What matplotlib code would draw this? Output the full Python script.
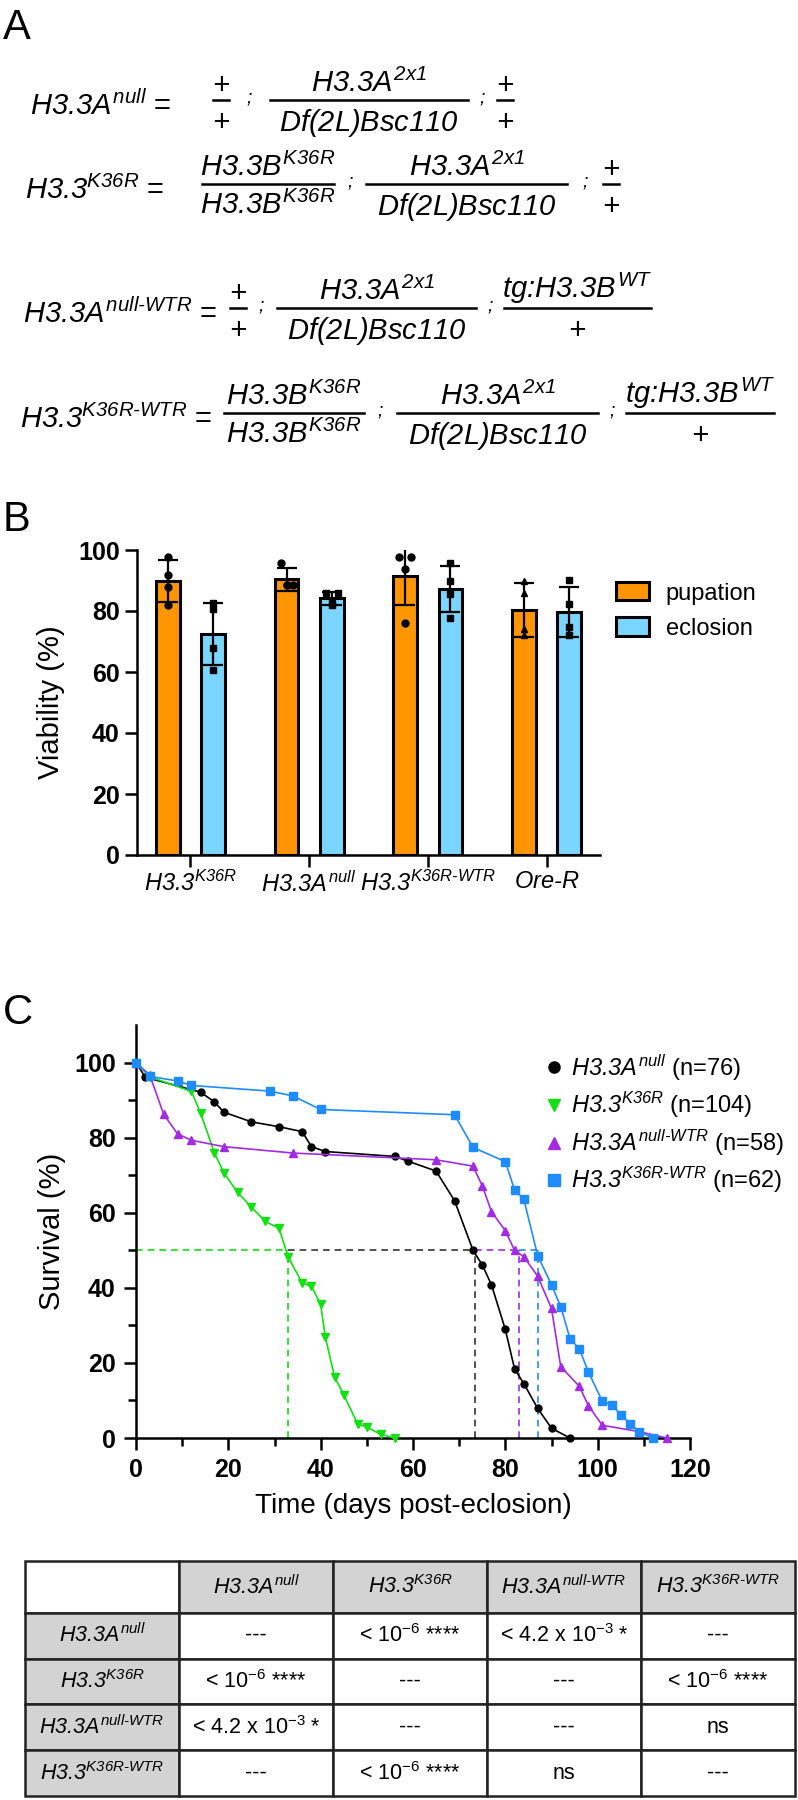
import numpy as np
import matplotlib
matplotlib.use('Agg')
import matplotlib.pyplot as plt
from matplotlib import font_manager
from matplotlib.lines import Line2D
from matplotlib.patches import Patch

names = {f.name for f in font_manager.fontManager.ttflist}
SANS = 'Liberation Sans'
NARROW = 'Liberation Sans Narrow' if 'Liberation Sans Narrow' in names else SANS

plt.rcParams['font.family'] = [SANS, 'DejaVu Sans']
plt.rcParams['mathtext.fontset'] = 'custom'
plt.rcParams['mathtext.rm'] = SANS + ':italic'
plt.rcParams['mathtext.it'] = SANS + ':italic'
plt.rcParams['mathtext.sf'] = SANS
plt.rcParams['mathtext.bf'] = SANS + ':bold'

# ---- labels
K36R = r'$\mathit{H3.3}^{\mathit{K36R}}$'
ANULL = r'$\mathit{H3.3A}^{\mathit{null}}$'
K36R_WTR = r'$\mathit{H3.3}^{\mathit{K36R}\text{-}\mathit{WTR}}$'
ANULL_WTR = r'$\mathit{H3.3A}^{\mathit{null}\text{-}\mathit{WTR}}$'
ORER = r'$\mathit{Ore}\text{-}\mathit{R}$'
A2X1 = r'$\mathit{H3.3A}^{\mathit{2x1}}$'
DF = r'$\mathit{Df(2L)Bsc110}$'
BK = r'$\mathit{H3.3B}^{\mathit{K36R}}$'
TG = r'tg:$\mathit{H3.3B}^{\mathit{WT}}$'
PLUS = r'$\mathit{+}$'

# ---- panel A: genotypes
geno_names = [ANULL + ' =', K36R + ' =', ANULL_WTR + ' =', K36R_WTR + ' =']
geno_fracs = [
    [(PLUS, PLUS), (A2X1, DF), (PLUS, PLUS)],
    [(BK, BK), (A2X1, DF), (PLUS, PLUS)],
    [(PLUS, PLUS), (A2X1, DF), (TG, PLUS)],
    [(BK, BK), (A2X1, DF), (TG, PLUS)],
]

# ---- panel B: viability
bar_groups = [K36R, ANULL, K36R_WTR, ORER]
pup_mean = [89.9, 90.4, 91.4, 80.4]
pup_sd = [6.8, 3.7, 9.4, 8.9]
ecl_mean = [72.4, 84.2, 87.3, 79.6]
ecl_sd = [10.1, 2.1, 7.6, 8.2]
pup_pts = [[97.8, 91.9, 88.0, 82.0], [95.9, 88.5, 88.5, 88.5],
           [97.8, 97.8, 93.8, 76.2], [89.7, 86.0, 74.0, 72.0]]
ecl_pts = [[82.7, 80.5, 68.0, 60.5], [86.0, 86.0, 82.5, 82.0],
           [95.9, 89.7, 85.6, 77.8], [90.3, 82.2, 74.6, 72.0]]
pup_marks = ['o', 'o', 'o', '^']
ecl_marks = ['s', 's', 's', 's']

# ---- panel C: survival
null_t = [0, 2, 14, 17, 19, 25, 31, 36, 38, 41, 56, 59, 65, 69, 73, 75, 77, 80, 82, 84, 87, 90, 94]
null_s = [100, 96.1, 92.1, 89.5, 86.8, 84.2, 82.9, 81.6, 77.6, 76.3, 75.0, 73.7, 71.1, 63.2, 50.0,
          46.1, 40.8, 28.9, 18.4, 14.5, 7.9, 2.6, 0]
k36r_t = [0, 3, 12, 14, 17, 19, 22, 25, 28, 31, 33, 36, 38, 40, 41, 43, 45, 48, 50, 53, 56]
k36r_s = [100, 96.2, 92.3, 86.5, 75.9, 70.7, 65.4, 61.5, 57.7, 55.8, 48.1, 41.3, 40.4, 35.6,
          26.9, 16.3, 11.5, 3.8, 2.9, 1.0, 0]
nwtr_t = [0, 3, 6, 9, 12, 19, 34, 65, 73, 75, 77, 80, 82, 84, 87, 90, 92, 96, 98, 101, 109, 115]
nwtr_s = [100, 96.6, 86.2, 81.0, 79.3, 77.6, 75.9, 74.1, 72.4, 67.2, 60.3, 55.2, 50.0, 48.3,
          43.1, 34.5, 19.0, 13.8, 8.6, 3.4, 1.7, 0]
kwtr_t = [0, 3, 9, 12, 29, 34, 40, 69, 73, 80, 82, 84, 87, 90, 92, 94, 96, 98, 101, 103, 105,
          107, 109, 112]
kwtr_s = [100, 96.3, 95.1, 93.9, 92.4, 91.1, 87.5, 86.1, 77.4, 73.6, 66.1, 63.6, 48.6, 40.8,
          35.0, 26.5, 23.8, 17.6, 9.8, 8.9, 6.2, 3.8, 1.7, 0]
medians = [73.5, 33, 83, 87]
surv_labels = [ANULL + ' (n=76)', K36R + ' (n=104)', ANULL_WTR + ' (n=58)', K36R_WTR + ' (n=62)']

# ---- table
tab_cols = ['', ANULL, K36R, ANULL_WTR, K36R_WTR]
tab_rows = [ANULL, K36R, ANULL_WTR, K36R_WTR]
P6 = r'< 10$^{\mathsf{-6}}$ ****'
P3 = r'< 4.2 x 10$^{\mathsf{-3}}$ *'
tab_vals = [
    ['---', P6, P3, '---'],
    [P6, '---', '---', P6],
    [P3, '---', '---', 'ns'],
    ['---', P6, 'ns', '---'],
]

ORANGE = '#FF9500'
LBLUE = '#7AD5FF'
curve_cols = ['black', '#11E011', '#A32BE3', '#1E8CFF']
curve_marks = ['o', 'v', '^', 's']

W, H = 798, 1800
def fx(x):
    return x / W
def fy(y):
    return 1 - y / H

fig = plt.figure(figsize=(W / 100, H / 100), dpi=100)

# ================= A =================
fig.text(fx(3), fy(8), 'A', fontsize=30, va='top', ha='left')
row_y = [100, 184, 308, 413]
label_x = [30, 25, 23, 20]
spans = [
    [(213, 229), (270, 468), (497, 513)],
    [(202, 334), (366, 567), (603, 619)],
    [(230, 246), (277, 476), (504, 651)],
    [(224, 364), (397, 598), (626, 774)],
]
for name, fracs, y, lx, sp in zip(geno_names, geno_fracs, row_y, label_x, spans):
    fig.text(fx(lx), fy(y + 6), name, fontsize=21, ha='left', va='center')
    for (num, den), (x0, x1) in zip(fracs, sp):
        cx = (x0 + x1) / 2
        fig.add_artist(Line2D([fx(x0), fx(x1)], [fy(y), fy(y)], color='black', lw=1.8,
                              transform=fig.transFigure))
        fig.text(fx(cx), fy(y - 2), num, fontsize=21, ha='center', va='bottom', style='italic')
        fig.text(fx(cx), fy(y + 7), den, fontsize=21, ha='center', va='top')
    for (a, b) in zip(sp[:-1], sp[1:]):
        fig.text(fx((a[1] + b[0]) / 2), fy(y - 2), ';', fontsize=14, style='italic',
                 ha='center', va='center')

# ================= B =================
fig.text(fx(3), fy(500), 'B', fontsize=30, va='top', ha='left')
ax_b = fig.add_axes([fx(137), fy(855), (600 - 137) / W, (855 - 550) / H])
xg = np.arange(len(bar_groups))
off, bw = 0.19, 0.2
ekw = dict(ecolor='black', elinewidth=1.6, capsize=7, capthick=1.6, zorder=3)
ax_b.bar(xg - off, pup_mean, bw, yerr=pup_sd, color=ORANGE, edgecolor='black', lw=2.2,
         error_kw=ekw, zorder=2)
ax_b.bar(xg + off, ecl_mean, bw, yerr=ecl_sd, color=LBLUE, edgecolor='black', lw=2.2,
         error_kw=ekw, zorder=2)
jit = [-0.05, 0.05, 0.0, 0.0]
for i in range(len(bar_groups)):
    for j, v in enumerate(pup_pts[i]):
        ax_b.plot(xg[i] - off + jit[j] * (i in (1, 2)), v, pup_marks[i], color='black', ms=5,
                  zorder=4)
    for j, v in enumerate(ecl_pts[i]):
        ax_b.plot(xg[i] + off + jit[j] * (i == 1), v, ecl_marks[i], color='black', ms=5,
                  zorder=4)
ax_b.set_ylim(0, 100)
ax_b.set_xlim(-0.45, 3.45)
ax_b.set_yticks(range(0, 101, 20))
ax_b.set_xticks(xg)
ax_b.set_xticklabels(bar_groups, fontsize=17)
for s in ['top', 'right']:
    ax_b.spines[s].set_visible(False)
for s in ['left', 'bottom']:
    ax_b.spines[s].set_linewidth(1.8)
ax_b.tick_params(width=1.8, length=8.5, pad=3)
ax_b.tick_params(axis='y', labelsize=18, pad=4)
for lab in ax_b.get_yticklabels():
    lab.set_fontweight('bold')
    lab.set_family(NARROW)
ax_b.set_ylabel('Viability (%)', fontsize=21)
ax_b.yaxis.set_label_coords(-0.155, 0.5)
fig.legend(handles=[Patch(fc=ORANGE, ec='black', lw=2.2, label='pupation'),
                    Patch(fc=LBLUE, ec='black', lw=2.2, label='eclosion')],
           loc='center left', bbox_to_anchor=(fx(616), fy(611)), frameon=False, fontsize=17,
           handlelength=1.4, handleheight=0.8, handletextpad=0.7, labelspacing=0.55,
           borderpad=0, borderaxespad=0)

# ================= C =================
fig.text(fx(3), fy(993), 'C', fontsize=30, va='top', ha='left')
ax_c = fig.add_axes([fx(136), fy(1438), (690 - 136) / W, (1438 - 1025) / H])
curves = [(null_t, null_s), (k36r_t, k36r_s), (nwtr_t, nwtr_s), (kwtr_t, kwtr_s)]
for (t, s), c, m in zip(curves, curve_cols, curve_marks):
    ax_c.plot(t, s, color=c, marker=m, ms=5.5 if m != 'o' else 5, lw=1.2, clip_on=False, zorder=3)
order = np.argsort(medians)
prev = 0
for k in order:
    col = '#333333' if curve_cols[k] == 'black' else curve_cols[k]
    ax_c.plot([prev, medians[k]], [50, 50], color=col, lw=1.2, ls=(0, (4, 3)), zorder=2)
    ax_c.plot([medians[k], medians[k]], [0, 50], color=col, lw=1.2, ls=(0, (4, 3)), zorder=2)
    prev = medians[k]
ax_c.set_xlim(0, 120)
ax_c.set_ylim(0, 110)
ax_c.set_xticks(range(0, 121, 20))
ax_c.set_xticks(range(10, 120, 20), minor=True)
ax_c.set_yticks(range(0, 101, 20))
ax_c.set_yticks(range(10, 100, 20), minor=True)
for s in ['top', 'right']:
    ax_c.spines[s].set_visible(False)
for s in ['left', 'bottom']:
    ax_c.spines[s].set_linewidth(1.8)
ax_c.tick_params(which='major', width=1.8, length=8.5, labelsize=18, pad=6)
ax_c.tick_params(which='minor', width=1.8, length=6)
for lab in ax_c.get_xticklabels() + ax_c.get_yticklabels():
    lab.set_fontweight('bold')
    lab.set_family(NARROW)
ax_c.set_ylabel('Survival (%)', fontsize=21)
ax_c.yaxis.set_label_coords(-0.126, 0.5)
ax_c.set_xlabel('Time (days post-eclosion)', fontsize=20, labelpad=8)
handles = [Line2D([], [], color=c, marker=m, ls='none', ms=8) for c, m in zip(curve_cols, curve_marks)]
ax_c.legend(handles, surv_labels, loc='upper left', bbox_to_anchor=(fx(545), fy(1052)),
            bbox_transform=fig.transFigure, frameon=False, fontsize=17, handlelength=0.8,
            handletextpad=0.3, labelspacing=0.3, borderpad=0, borderaxespad=0)

# ================= table =================
ax_t = fig.add_axes([fx(25), fy(1796), (795 - 25) / W, (1796 - 1561) / H])
ax_t.axis('off')
cells = [tab_cols] + [[r] + v for r, v in zip(tab_rows, tab_vals)]
tbl = ax_t.table(cellText=cells, cellLoc='center', bbox=[0, 0, 1, 1])
tbl.auto_set_font_size(False)
for (r, c), cell in tbl.get_celld().items():
    cell.set_height(52 if r == 0 else 46)
    cell.set_edgecolor('#222222')
    cell.set_linewidth(1.8)
    gray = (r == 0 and c > 0) or (c == 0 and r > 0)
    cell.set_facecolor('#D3D3D3' if gray else 'white')
    cell.get_text().set_fontsize(15.5)
    if c == 0:
        cell._loc = 'left'
        cell.PAD = 0.13

fig.savefig('out.png', dpi=100)
